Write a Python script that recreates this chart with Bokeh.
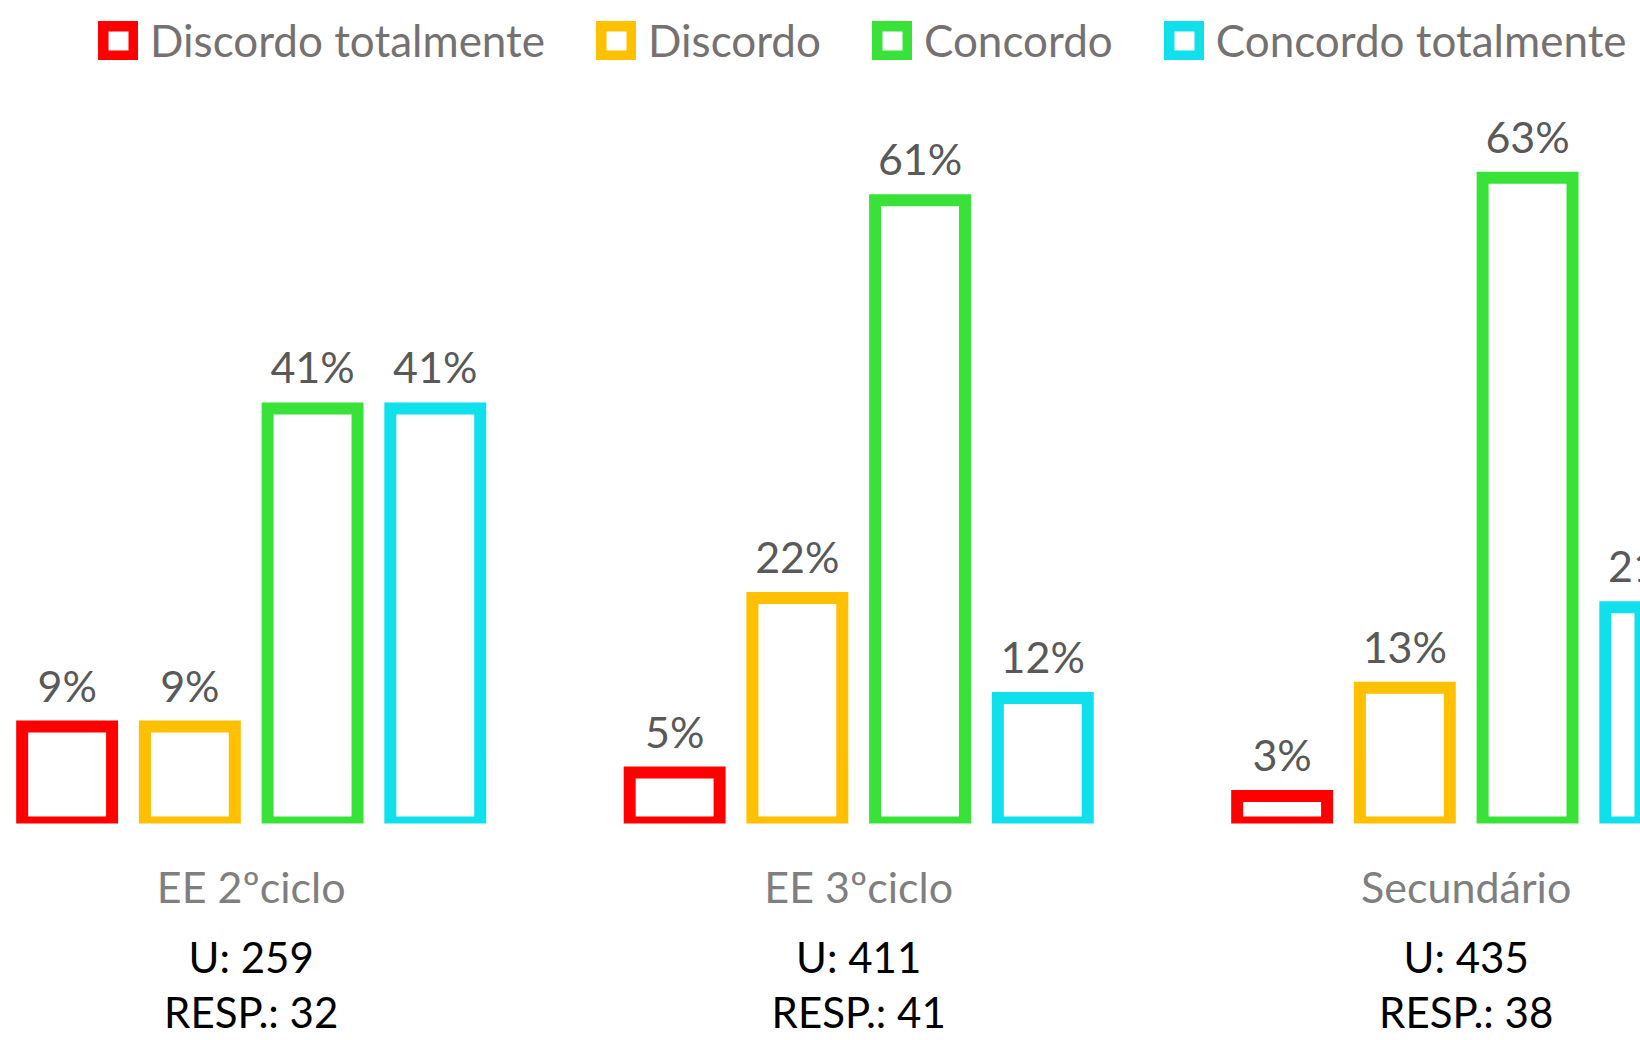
from bokeh.plotting import figure
from bokeh.models import (ColumnDataSource, Range1d, FixedTicker, LabelSet, Legend,
                          LegendItem, LinearAxis)
from bokeh.transform import dodge
from bokeh.embed import file_html
from bokeh.resources import INLINE
from bokeh.core.properties import value

# ---- data -------------------------------------------------------------
categories = ["EE 2ºciclo", "EE 3ºciclo", "Secundário"]
series = ["Discordo totalmente", "Discordo", "Concordo", "Concordo totalmente"]
discordo_totalmente = [9.4, 4.9, 2.6]
discordo = [9.4, 22.0, 13.2]
concordo = [40.6, 61.0, 63.2]
concordo_totalmente = [40.6, 12.2, 21.1]
u_counts = [259, 411, 435]
resp_counts = [32, 41, 38]

# ---- style ------------------------------------------------------------
FONT = "Lato"
colors = ["#FF0000", "#FFC000", "#38E238", "#10E0EC"]
offsets = [-0.303, -0.101, 0.101, 0.303]
values = [discordo_totalmente, discordo, concordo, concordo_totalmente]

x_centers = [i + 0.5 for i in range(len(categories))]

p = figure(width=1640, height=1040,
           x_range=Range1d(0.0873, 2.7869), y_range=Range1d(-0.098, 80.59),
           output_backend="svg", toolbar_location=None, y_axis_location=None,
           min_border_left=0, min_border_right=0, min_border_top=0, min_border_bottom=217,
           outline_line_color=None, background_fill_color="white", border_fill_color="white")
p.grid.visible = False

items = []
for name, vals, col, off in zip(series, values, colors, offsets):
    src = ColumnDataSource(dict(x=x_centers, top=vals,
                                label=[f"{round(v)}%" for v in vals]))
    r = p.vbar(x=dodge("x", off, range=p.x_range), top="top", bottom=0, width=0.148,
               source=src, fill_color="white", line_color=col, line_width=12,
               line_join="miter")
    items.append(LegendItem(label=name, renderers=[r]))
    p.add_layout(LabelSet(x=dodge("x", off, range=p.x_range), y="top", text="label",
                          source=src, y_offset=25, text_align="center",
                          text_baseline="alphabetic", text_font=value(FONT),
                          text_font_size="43px", text_color="#595959"))

legend = Legend(items=items, orientation="horizontal", location=(98, 757),
                padding=0, margin=0, spacing=51, label_standoff=12,
                glyph_width=40, glyph_height=39, border_line_color=None,
                background_fill_alpha=0, label_text_font=FONT,
                label_text_font_size="44px", label_text_color="#767171")
p.add_layout(legend)


def style_axis(ax, labels, size, color, standoff):
    ax.ticker = FixedTicker(ticks=x_centers)
    ax.major_label_overrides = {x: t for x, t in zip(x_centers, labels)}
    ax.axis_line_color = None
    ax.major_tick_line_color = None
    ax.minor_tick_line_color = None
    ax.major_tick_out = 0
    ax.major_tick_in = 0
    ax.minor_tick_out = 0
    ax.minor_tick_in = 0
    ax.major_label_standoff = standoff
    ax.major_label_text_font = FONT
    ax.major_label_text_font_size = size
    ax.major_label_text_color = color


style_axis(p.xaxis[0], categories, "43px", "#7F7F7F", 37)

ax_u = LinearAxis()
style_axis(ax_u, [f"U: {n}" for n in u_counts], "42px", "#000000", 17)
p.add_layout(ax_u, "below")

ax_r = LinearAxis()
style_axis(ax_r, [f"RESP.: {n}" for n in resp_counts], "42px", "#000000", 2)
p.add_layout(ax_r, "below")

open("out.html", "w").write(file_html(p, INLINE, "Chart"))
